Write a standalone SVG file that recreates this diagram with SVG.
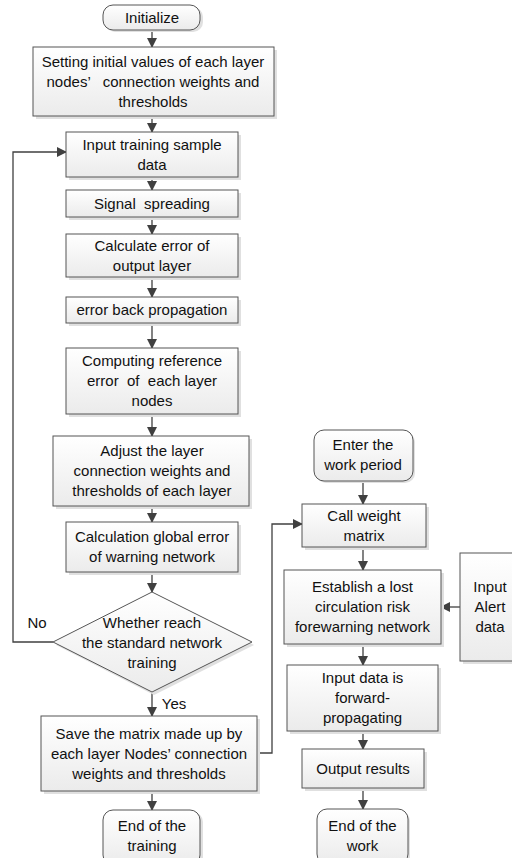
<svg xmlns="http://www.w3.org/2000/svg" width="512" height="858" viewBox="0 0 512 858">
<defs>
<linearGradient id="g" x1="0" y1="0" x2="0" y2="1">
<stop offset="0" stop-color="#ffffff"/>
<stop offset="1" stop-color="#ebebeb"/>
</linearGradient>
<marker id="ah" markerWidth="10" markerHeight="10" refX="9" refY="5" orient="auto" markerUnits="userSpaceOnUse">
<path d="M0,0 L10,5 L0,10 Z" fill="#404040"/>
</marker>
<style>
.b{fill:url(#g);stroke:#555;stroke-width:1}
.s{fill:#e0e0e0;stroke:none}
.t{font-family:"Liberation Sans",Arial,sans-serif;font-size:15px;fill:#111;text-anchor:middle;white-space:pre}
.c{fill:none;stroke:#404040;stroke-width:1.3}
</style>
</defs>
<rect width="512" height="858" fill="#fff"/>
<g id="connectors">
<line class="c" x1="152" y1="30" x2="152" y2="47" marker-end="url(#ah)"/>
<line class="c" x1="152" y1="116" x2="152" y2="132" marker-end="url(#ah)"/>
<line class="c" x1="152" y1="177" x2="152" y2="190" marker-end="url(#ah)"/>
<line class="c" x1="152" y1="217" x2="152" y2="234" marker-end="url(#ah)"/>
<line class="c" x1="152" y1="277" x2="152" y2="297" marker-end="url(#ah)"/>
<line class="c" x1="152" y1="323" x2="152" y2="348" marker-end="url(#ah)"/>
<line class="c" x1="152" y1="414" x2="152" y2="436" marker-end="url(#ah)"/>
<line class="c" x1="152" y1="506" x2="152" y2="522" marker-end="url(#ah)"/>
<line class="c" x1="152" y1="572" x2="152" y2="592" marker-end="url(#ah)"/>
<line class="c" x1="152" y1="692" x2="152" y2="716" marker-end="url(#ah)"/>
<line class="c" x1="152" y1="791" x2="152" y2="810" marker-end="url(#ah)"/>
<polyline class="c" points="53,642 13,642 13,152 66,152" marker-end="url(#ah)"/>
<polyline class="c" points="257,753 272,753 272,524 302,524" marker-end="url(#ah)"/>
<line class="c" x1="363" y1="481" x2="363" y2="504" marker-end="url(#ah)"/>
<line class="c" x1="363" y1="547" x2="363" y2="570" marker-end="url(#ah)"/>
<line class="c" x1="460" y1="607" x2="441" y2="607" marker-end="url(#ah)"/>
<line class="c" x1="363" y1="644" x2="363" y2="665" marker-end="url(#ah)"/>
<line class="c" x1="363" y1="731" x2="363" y2="749" marker-end="url(#ah)"/>
<line class="c" x1="363" y1="788" x2="363" y2="809" marker-end="url(#ah)"/>
<text class="t" x="37" y="628">No</text>
<text class="t" x="174" y="709">Yes</text>
</g>
<g id="initialize">
<rect class="s" x="105" y="7" width="98" height="25" rx="10"/>
<rect class="b" x="103" y="5" width="97" height="25" rx="10"/>
<text class="t" x="152" y="22.5">Initialize</text>
</g>
<g id="setting">
<rect class="s" x="36" y="50" width="241" height="69"/>
<rect class="b" x="33" y="47" width="241" height="69"/>
<text class="t" x="153" y="66.5">Setting initial values of each layer</text>
<text class="t" x="153" y="86.5">nodes’   connection weights and</text>
<text class="t" x="153" y="106.5">thresholds</text>
</g>
<g id="input-training">
<rect class="s" x="69" y="135" width="172" height="45"/>
<rect class="b" x="66" y="132" width="172" height="45"/>
<text class="t" x="152" y="149.5">Input training sample</text>
<text class="t" x="152" y="169.5">data</text>
</g>
<g id="signal">
<rect class="s" x="69" y="193" width="172" height="27"/>
<rect class="b" x="66" y="190" width="172" height="27"/>
<text class="t" x="152" y="208.5">Signal  spreading</text>
</g>
<g id="calc-error">
<rect class="s" x="69" y="237" width="172" height="43"/>
<rect class="b" x="66" y="234" width="172" height="43"/>
<text class="t" x="152" y="250.5">Calculate error of</text>
<text class="t" x="152" y="270.5">output layer</text>
</g>
<g id="backprop">
<rect class="s" x="69" y="300" width="172" height="26"/>
<rect class="b" x="66" y="297" width="172" height="26"/>
<text class="t" x="152" y="315">error back propagation</text>
</g>
<g id="computing">
<rect class="s" x="69" y="351" width="172" height="66"/>
<rect class="b" x="66" y="348" width="172" height="66"/>
<text class="t" x="152" y="366">Computing reference</text>
<text class="t" x="152" y="386">error  of  each layer</text>
<text class="t" x="152" y="406">nodes</text>
</g>
<g id="adjust">
<rect class="s" x="56" y="439" width="196" height="70"/>
<rect class="b" x="53" y="436" width="196" height="70"/>
<text class="t" x="152" y="456">Adjust the layer</text>
<text class="t" x="152" y="476">connection weights and</text>
<text class="t" x="152" y="496">thresholds of each layer</text>
</g>
<g id="global-error">
<rect class="s" x="69" y="525" width="172" height="50"/>
<rect class="b" x="66" y="522" width="172" height="50"/>
<text class="t" x="152" y="542">Calculation global error</text>
<text class="t" x="152" y="562">of warning network</text>
</g>
<g id="decision">
<polygon class="s" points="154,595 254,645 154,695 56,645"/>
<polygon class="b" points="152,592 252,642 152,692 53,642"/>
<text class="t" x="152" y="628">Whether reach</text>
<text class="t" x="152" y="648">the standard network</text>
<text class="t" x="152" y="668">training</text>
</g>
<g id="save">
<rect class="s" x="44" y="719" width="216" height="75"/>
<rect class="b" x="41" y="716" width="216" height="75"/>
<text class="t" x="149" y="738.5">Save the matrix made up by</text>
<text class="t" x="149" y="758.5">each layer Nodes’ connection</text>
<text class="t" x="149" y="778.5">weights and thresholds</text>
</g>
<g id="end-training">
<rect class="s" x="105" y="812" width="98" height="55" rx="10"/>
<rect class="b" x="103" y="810" width="97" height="55" rx="10"/>
<text class="t" x="152" y="831">End of the</text>
<text class="t" x="152" y="851">training</text>
</g>
<g id="enter-work">
<rect class="s" x="316" y="432" width="99" height="51" rx="10"/>
<rect class="b" x="314" y="430" width="99" height="51" rx="10"/>
<text class="t" x="363" y="450">Enter the</text>
<text class="t" x="363" y="470">work period</text>
</g>
<g id="call-weight">
<rect class="s" x="305" y="507" width="124" height="43"/>
<rect class="b" x="302" y="504" width="124" height="43"/>
<text class="t" x="364" y="520.5">Call weight</text>
<text class="t" x="364" y="540.5">matrix</text>
</g>
<g id="establish">
<rect class="s" x="287" y="573" width="157" height="74"/>
<rect class="b" x="284" y="570" width="157" height="74"/>
<text class="t" x="362.5" y="592">Establish a lost</text>
<text class="t" x="362.5" y="612">circulation risk</text>
<text class="t" x="362.5" y="632">forewarning network</text>
</g>
<g id="input-alert">
<rect class="s" x="463" y="556" width="60" height="108"/>
<rect class="b" x="460" y="553" width="60" height="108"/>
<text class="t" x="490" y="592">Input</text>
<text class="t" x="490" y="612">Alert</text>
<text class="t" x="490" y="632">data</text>
</g>
<g id="forward">
<rect class="s" x="290" y="668" width="151" height="66"/>
<rect class="b" x="287" y="665" width="151" height="66"/>
<text class="t" x="362.5" y="683">Input data is</text>
<text class="t" x="362.5" y="703">forward-</text>
<text class="t" x="362.5" y="723">propagating</text>
</g>
<g id="output">
<rect class="s" x="305" y="752" width="122" height="39"/>
<rect class="b" x="302" y="749" width="122" height="39"/>
<text class="t" x="363" y="773.5">Output results</text>
</g>
<g id="end-work">
<rect class="s" x="319" y="811" width="91" height="55" rx="10"/>
<rect class="b" x="317" y="809" width="91" height="55" rx="10"/>
<text class="t" x="362.5" y="831">End of the</text>
<text class="t" x="362.5" y="851">work</text>
</g>
</svg>
